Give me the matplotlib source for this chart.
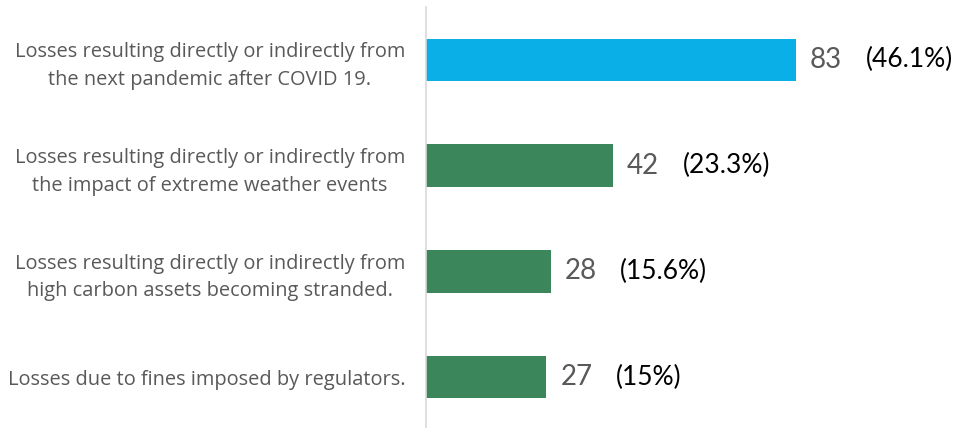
import matplotlib.pyplot as plt
import numpy as np

plt.rcParams['font.family'] = ['Lato', 'DejaVu Sans']

# data
categories = [
    'Losses resulting directly or indirectly from\nthe next pandemic after COVID 19.',
    'Losses resulting directly or indirectly from\nthe impact of extreme weather events',
    'Losses resulting directly or indirectly from\nhigh carbon assets becoming stranded.',
    'Losses due to fines imposed by regulators.',
]
counts = [83, 42, 28, 27]
pct_labels = ['(46.1%)', '(23.3%)', '(15.6%)', '(15%)']
bar_colors = ['#0AAFE8', '#3B865B', '#3B865B', '#3B865B']

W, H = 959, 428
fig = plt.figure(figsize=(W / 100, H / 100), dpi=100)
# plot area in pixels: left edge at axis line
left_px, top_px, bottom_px = 426, 7, 430
ax = fig.add_axes([left_px / W, 1 - bottom_px / H, (W - left_px) / W, (bottom_px - top_px) / H])

y = np.arange(len(categories))
ax.barh(y, counts, height=0.4, color=bar_colors)

ax.set_ylim(len(categories) - 0.5, -0.5)
ax.set_xlim(0, (W - left_px) / 4.458)

for i, (c, p) in enumerate(zip(counts, pct_labels)):
    ax.annotate(str(c), xy=(c, i), xytext=(10, 0), textcoords='offset points',
                va='center', ha='left', fontsize=20, color='#595959')
    ax.annotate(p, xy=(c, i), xytext=(50, 0), textcoords='offset points',
                va='center', ha='left', fontsize=19, color='#000000')

ax.set_yticks(y)
ax.set_yticklabels(categories, fontsize=14.4, color='#595959', multialignment='center',
                   linespacing=1.5, family=['Open Sans', 'DejaVu Sans'])
ax.tick_params(axis='y', length=0, pad=15)
ax.set_xticks([])

for s in ['top', 'right', 'bottom']:
    ax.spines[s].set_visible(False)
ax.spines['left'].set_color('#D9D9D9')
ax.spines['left'].set_linewidth(1.2)

fig.savefig('out.png', dpi=100)
